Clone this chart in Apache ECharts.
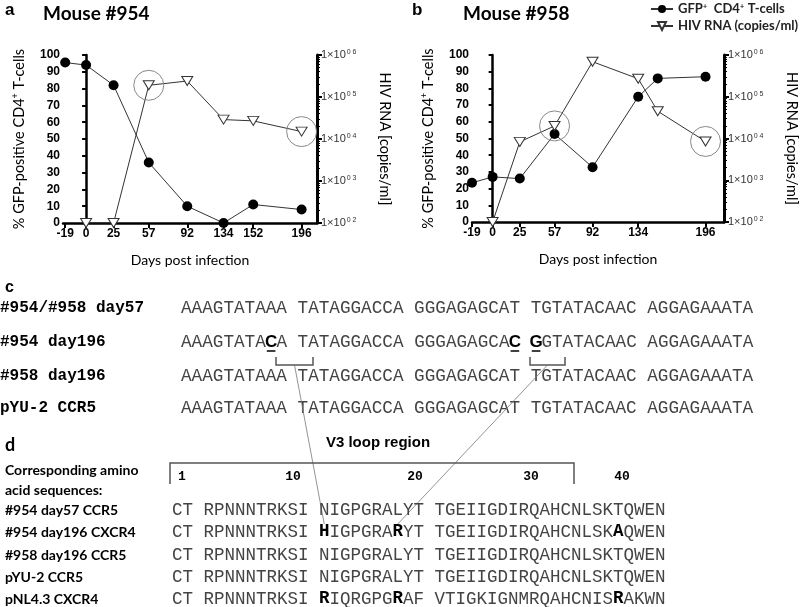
<!DOCTYPE html>
<html>
<head>
<meta charset="utf-8">
<script src="https://cdn.jsdelivr.net/npm/echarts@6/dist/echarts.min.js"></script>
<style>
  html, body { margin: 0; padding: 0; background: #fff; }
  #chart { width: 800px; height: 607px; }
</style>
</head>
<body>
<div id="chart"></div>
<script>
// panel a (mouse #954); the point labelled 134 is drawn at ~125 in the source figure
const daysA = [-19, 0, 25, 57, 92, 125, 152, 196];
const dayLabelsA = ['-19', '0', '25', '57', '92', '134', '152', '196'];
const gfpA = [95.5, 94, 82, 36, 10, 0, 11, 8];
const hivDaysA = [0, 25, 57, 92, 125, 152, 196];
const hivA = [100, 100, 1.9e5, 2.4e5, 2.9e4, 2.7e4, 1.5e4];
const circledA = [57, 196];

// panel b (mouse #958)
const daysB = [-19, 0, 25, 57, 92, 134, 152, 196];
const dayTicksB = [-19, 0, 25, 57, 92, 134, 196];
const gfpB = [23.5, 27, 26, 52.7, 32.8, 75, 86, 87];
const hivDaysB = [0, 25, 57, 92, 134, 152, 196];
const hivB = [100, 8.3e3, 2.0e4, 6.9e5, 2.7e5, 4.5e4, 8.5e3];
const circledB = [57, 196];

// panel c: nucleotide sequences, bold/underlined positions
const nucLabels = ['#954/#958 day57', '#954 day196', '#958 day196', 'pYU-2 CCR5'];
const nucSeqs = [
  'AAAGTATAAA TATAGGACCA GGGAGAGCAT TGTATACAAC AGGAGAAATA',
  'AAAGTATACA TATAGGACCA GGGAGAGCAC GGTATACAAC AGGAGAAATA',
  'AAAGTATAAA TATAGGACCA GGGAGAGCAT TGTATACAAC AGGAGAAATA',
  'AAAGTATAAA TATAGGACCA GGGAGAGCAT TGTATACAAC AGGAGAAATA'
];
const nucBold = [[], [8, 31, 33], [], []];

// panel d: amino acid sequences
const aaLabels = ['#954 day57 CCR5', '#954 day196 CXCR4', '#958 day196 CCR5', 'pYU-2 CCR5', 'pNL4.3 CXCR4'];
const aaSeqs = [
  'CT RPNNNTRKSI NIGPGRALYT TGEIIGDIRQAHCNLSKTQWEN',
  'CT RPNNNTRKSI HIGPGRARYT TGEIIGDIRQAHCNLSKAQWEN',
  'CT RPNNNTRKSI NIGPGRALYT TGEIIGDIRQAHCNLSKTQWEN',
  'CT RPNNNTRKSI NIGPGRALYT TGEIIGDIRQAHCNLSKTQWEN',
  'CT RPNNNTRKSI RIQRGPGRAF VTIGKIGNMRQAHCNISRAKWN'
];
const aaBold = [[], [14, 21, 42], [], [], [14, 21, 42]];
const loopTicks = ['1', '10', '20', '30', '40'];

const chart = echarts.init(document.getElementById('chart'));

const SANS = 'Lato, "Liberation Sans", sans-serif';
const ARIAL = '"Liberation Sans", Arial, sans-serif';
const MONO = '"Liberation Mono", monospace';

function xAxisCfg(idx, min, max, ticks, labels) {
  return {
    gridIndex: idx, type: 'value', min: min, max: max,
    axisLine: { show: true, onZero: false, lineStyle: { color: '#000', width: 2.5 } },
    axisTick: { show: true, customValues: ticks, length: 5, lineStyle: { color: '#000', width: 2 } },
    axisLabel: {
      customValues: ticks, margin: 5, color: '#000', fontWeight: 'bold', fontSize: 12,
      fontFamily: ARIAL,
      formatter: v => labels ? labels[ticks.indexOf(v)] : String(v)
    },
    splitLine: { show: false },
    name: 'Days post infection', nameLocation: 'middle', nameGap: 30,
    nameTextStyle: { fontFamily: SANS, fontSize: 14, color: '#000' }
  };
}

function leftAxisCfg(idx) {
  return {
    gridIndex: idx, type: 'value', min: 0, max: 100, interval: 10,
    axisLine: { show: true, lineStyle: { color: '#000', width: 2.5 } },
    axisTick: { show: true, length: 4, lineStyle: { color: '#000', width: 2 } },
    axisLabel: { margin: 3, color: '#000', fontWeight: 'bold', fontSize: 12, fontFamily: ARIAL },
    splitLine: { show: false },
    name: '% GFP-positive CD4{sup|+} T-cells', nameLocation: 'middle', nameGap: 36,
    nameTextStyle: {
      fontFamily: SANS, fontSize: 14.5, color: '#000',
      rich: { sup: { fontFamily: SANS, fontSize: 9, color: '#000', padding: [0, 0, 7, 0] } }
    }
  };
}

function rightAxisCfg(idx) {
  return {
    gridIndex: idx, type: 'log', logBase: 10, min: 100, max: 1e6, position: 'right',
    axisLine: { show: true, lineStyle: { color: '#000', width: 3 } },
    axisTick: { show: true, length: 5, lineStyle: { color: '#000', width: 2 } },
    minorTick: { show: true, splitNumber: 9, length: 3, lineStyle: { color: '#000', width: 1 } },
    axisLabel: {
      margin: 4, color: '#333', fontSize: 11, fontFamily: ARIAL,
      formatter: v => '{a|1×10}{s|0 ' + Math.round(Math.log10(v)) + '}',
      rich: {
        a: { fontSize: 11, color: '#333', fontFamily: ARIAL },
        s: { fontSize: 7, color: '#333', fontFamily: ARIAL, padding: [0, 0, 5, 1] }
      }
    },
    splitLine: { show: false },
    name: 'HIV RNA [copies/ml]', nameLocation: 'middle', nameGap: 60, nameRotate: -90,
    nameTextStyle: { fontFamily: SANS, fontSize: 14.5, color: '#000' }
  };
}

function gfpSeries(idx, days, vals) {
  return {
    name: 'GFP', type: 'line', xAxisIndex: idx, yAxisIndex: idx * 2,
    data: days.map((d, i) => [d, vals[i]]),
    symbol: 'circle', symbolSize: 10,
    itemStyle: { color: '#000' },
    lineStyle: { color: '#333', width: 1 },
    z: 3
  };
}

function hivSeries(idx, days, vals, circled) {
  return {
    name: 'HIV', type: 'line', xAxisIndex: idx, yAxisIndex: idx * 2 + 1,
    data: days.map((d, i) => [d, vals[i]]),
    symbol: 'triangle', symbolRotate: 180, symbolSize: [11, 9],
    itemStyle: { color: '#fff', borderColor: '#333', borderWidth: 1 },
    lineStyle: { color: '#333', width: 1 },
    z: 4,
    markPoint: {
      silent: true, symbol: 'circle', symbolSize: 30,
      itemStyle: { color: 'rgba(0,0,0,0)', borderColor: '#888', borderWidth: 1 },
      label: { show: false },
      data: circled.map(d => ({ coord: [d, vals[days.indexOf(d)]] }))
    }
  };
}

// draw a monospaced sequence as plain runs plus separately styled bold letters
function seqTexts(seq, bold, x0, y, cw, plainFont, boldFont) {
  const out = [];
  let start = 0;
  const flush = end => {
    if (end > start) {
      out.push({ type: 'text', x: x0 + start * cw, y: y, style: { text: seq.slice(start, end), font: plainFont, fill: '#444', verticalAlign: 'middle' } });
    }
  };
  for (let i = 0; i < seq.length; i++) {
    if (bold.indexOf(i) >= 0) {
      flush(i);
      out.push({ type: 'text', x: x0 + (i + 0.5) * cw, y: y, style: { text: seq[i], font: boldFont, fill: '#000', align: 'center', verticalAlign: 'middle' } });
      start = i + 1;
    }
  }
  flush(seq.length);
  return out;
}

// text layout for panels c and d
const nucX = 181, nucCW = 10.6, nucRowY = [308, 342, 376, 408];
const aaX = 172, aaCW = 10.5, aaRowY = [510, 532, 555, 577, 599];
const loopTickX = [182, 293, 415, 531, 622];
const nucFont = (nucCW / 0.6).toFixed(2) + 'px ' + MONO;
const aaFont = (aaCW / 0.6).toFixed(2) + 'px ' + MONO;
const graphics = [];

graphics.push({ type: 'text', x: 5, y: 288, style: { text: 'c', font: 'bold 16px ' + ARIAL, fill: '#000', verticalAlign: 'middle' } });
nucLabels.forEach((lab, r) => {
  graphics.push({ type: 'text', x: 0, y: nucRowY[r], style: { text: lab, font: 'bold 16px ' + MONO, fill: '#000', verticalAlign: 'middle' } });
  seqTexts(nucSeqs[r], nucBold[r], nucX, nucRowY[r], nucCW, nucFont, 'bold 17px ' + ARIAL).forEach(g => graphics.push(g));
  nucBold[r].forEach(i => {
    graphics.push({ type: 'line', shape: { x1: nucX + i * nucCW + 1, y1: nucRowY[r] + 9, x2: nucX + (i + 1) * nucCW - 1, y2: nucRowY[r] + 9 }, style: { stroke: '#000', lineWidth: 1.5 } });
  });
});

// codon brackets and connectors to the amino-acid changes
const brackets = [[276, 313], [530, 565]];
const bracketTargets = [14, 21];
brackets.forEach((b, k) => {
  graphics.push({ type: 'polyline', shape: { points: [[b[0], 357], [b[0], 365], [b[1], 365], [b[1], 357]] }, style: { stroke: '#555', lineWidth: 1.5, fill: null } });
  const tx = aaX + (bracketTargets[k] + 0.5) * aaCW;
  graphics.push({ type: 'line', shape: { x1: (b[0] + b[1]) / 2, y1: 365, x2: tx, y2: aaRowY[1] - 8 }, style: { stroke: '#777', lineWidth: 0.8 } });
});

graphics.push({ type: 'text', x: 5, y: 445, style: { text: 'd', font: 'bold 18px ' + SANS, fill: '#000', verticalAlign: 'middle' } });
graphics.push({ type: 'text', x: 378, y: 443, style: { text: 'V3 loop region', font: 'bold 15px ' + ARIAL, fill: '#000', align: 'center', verticalAlign: 'middle' } });
graphics.push({ type: 'polyline', shape: { points: [[170, 484], [170, 463], [574, 463], [574, 484]] }, style: { stroke: '#555', lineWidth: 1.5, fill: null } });
loopTicks.forEach((t, i) => {
  graphics.push({ type: 'text', x: loopTickX[i], y: 477, style: { text: t, font: 'bold 13px ' + MONO, fill: '#000', align: 'center', verticalAlign: 'middle' } });
});
graphics.push({ type: 'text', x: 5, y: 470, style: { text: 'Corresponding amino', font: 'bold 14px ' + SANS, fill: '#000', verticalAlign: 'middle' } });
graphics.push({ type: 'text', x: 5, y: 490, style: { text: 'acid sequences:', font: 'bold 14px ' + SANS, fill: '#000', verticalAlign: 'middle' } });
aaLabels.forEach((lab, r) => {
  graphics.push({ type: 'text', x: 5, y: aaRowY[r], style: { text: lab, font: 'bold 14px ' + SANS, fill: '#000', verticalAlign: 'middle' } });
  seqTexts(aaSeqs[r], aaBold[r], aaX, aaRowY[r], aaCW, aaFont, 'bold ' + aaFont).forEach(g => graphics.push(g));
});

const option = {
  backgroundColor: '#fff',
  animation: false,
  title: [
    { text: 'a', left: 5, top: 2, padding: 0, textStyle: { fontSize: 17, fontWeight: 'bold', fontFamily: ARIAL, color: '#000' } },
    { text: 'Mouse #954', left: 43, top: 4, padding: 0, textStyle: { fontSize: 19, fontWeight: 'bold', fontFamily: SANS, color: '#000' } },
    { text: 'b', left: 412, top: 2, padding: 0, textStyle: { fontSize: 17, fontWeight: 'bold', fontFamily: ARIAL, color: '#000' } },
    { text: 'Mouse #958', left: 463, top: 4, padding: 0, textStyle: { fontSize: 19, fontWeight: 'bold', fontFamily: SANS, color: '#000' } }
  ],
  legend: {
    data: ['GFP', 'HIV'], orient: 'vertical', left: 650, top: 2, padding: 0,
    itemWidth: 22, itemHeight: 10, itemGap: 4,
    formatter: n => n === 'GFP' ? 'GFP{sup|+}  CD4{sup|+} T-cells' : 'HIV RNA (copies/ml)',
    textStyle: {
      fontFamily: SANS, fontWeight: 'bold', fontSize: 13, color: '#222',
      rich: { sup: { fontFamily: SANS, fontWeight: 'bold', fontSize: 8, color: '#222', padding: [0, 0, 6, 0] } }
    }
  },
  grid: [
    { left: 63, top: 55, width: 254, height: 168 },
    { left: 472, top: 55, width: 255, height: 167 }
  ],
  xAxis: [
    xAxisCfg(0, -21, 210, daysA, dayLabelsA),
    xAxisCfg(1, -19, 213, dayTicksB, null)
  ],
  yAxis: [leftAxisCfg(0), rightAxisCfg(0), leftAxisCfg(1), rightAxisCfg(1)],
  series: [
    gfpSeries(0, daysA, gfpA),
    hivSeries(0, hivDaysA, hivA, circledA),
    gfpSeries(1, daysB, gfpB),
    hivSeries(1, hivDaysB, hivB, circledB)
  ],
  graphic: graphics
};

chart.setOption(option);
</script>
</body>
</html>
